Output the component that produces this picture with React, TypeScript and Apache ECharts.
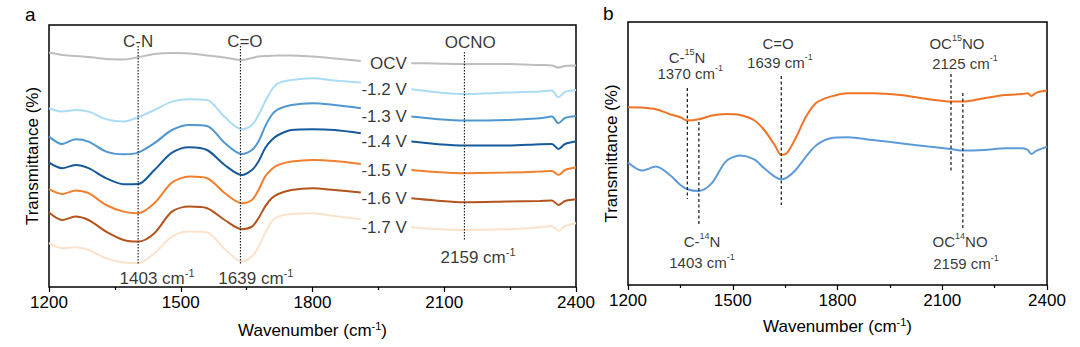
import React, { useEffect, useRef } from 'react';
import * as echarts from 'echarts';

const FONT = "'Liberation Sans', Arial, Helvetica, sans-serif";

// ---------- Panel a ----------
const waveA1 = [1200, 1230, 1260, 1290, 1330, 1370, 1403, 1440, 1480, 1520, 1560, 1600, 1639, 1662, 1677, 1692, 1707, 1722, 1752, 1800, 1850, 1910];
const waveA2 = [2025, 2080, 2145, 2242, 2318, 2345, 2360, 2375, 2400];
const voltLabels = ['OCV', '-1.2 V', '-1.3 V', '-1.4 V', '-1.5 V', '-1.6 V', '-1.7 V'];
const voltColors = ['#bdbdbd', '#aadcf6', '#4e97d1', '#175a9c', '#f2802f', '#b3541d', '#fde2cb'];

const ocvL = [117.2, 116, 115.5, 115, 114, 113.8, 114.9, 116.5, 117, 116.8, 115.8, 114.8, 113.5, 114.5, 115.2, 115.5, 115.6, 115.8, 115.8, 115.2, 114.3, 113];
const ocvR = [111.9, 111.8, 111.5, 111.5, 111, 110.8, 109.7, 110.5, 110.7];
const v12L = [89.4, 87.7, 88.5, 87.7, 83.9, 82.7, 84.9, 88.5, 92.7, 93.9, 93.5, 85, 78.9, 81, 86, 92.7, 98.5, 101.9, 103.5, 104.4, 103.2, 102.2];
const v12R = [98.9, 97.5, 96.5, 97.2, 97.7, 98.2, 94.9, 97.5, 98.5];
const v13L = [75.2, 71.5, 73.9, 72.7, 67.7, 66.4, 67.2, 71.9, 78.5, 81, 80.5, 72, 66.5, 68.5, 72.7, 80.2, 86, 88.9, 91, 91.9, 91, 89.4];
const v13R = [85.2, 84, 83.2, 83.5, 84.4, 85.2, 81.9, 84.5, 85.5];
const v14L = [62.2, 59.4, 61, 59.4, 54.4, 51.4, 51.5, 58.5, 67.2, 69.9, 68.5, 61, 56, 58.5, 62.7, 69.4, 73.5, 76, 78.5, 78.9, 78.5, 76.9];
const v14R = [72.7, 71.5, 70.7, 70.7, 71.4, 71.5, 69, 71.5, 72.7];
const v15L = [48.9, 46.5, 48.2, 46.9, 41, 37.7, 36.9, 41.9, 52.2, 55.2, 54.4, 47, 41.9, 43.5, 48.5, 55.2, 58.9, 61, 62.7, 63.5, 63, 61.5];
const v15R = [58.5, 57.5, 56.9, 57.2, 57.7, 58, 56, 58.5, 59.7];
const v16L = [37.2, 33.5, 35.2, 33.5, 27.7, 23.5, 22.7, 26.9, 37.7, 40.2, 39.4, 33.5, 28.9, 30.2, 34.4, 40.2, 44.4, 46.5, 48.5, 49.4, 48.5, 47.2];
const v16R = [44.4, 43.3, 42.4, 42.7, 43, 43.2, 41, 43, 43.9];
const v17L = [21.9, 19.4, 19.9, 18.5, 14.4, 12.2, 11.9, 16.9, 25.2, 27.7, 27.2, 19, 12.7, 15.2, 20.2, 26.9, 32.7, 35.2, 36.5, 36.9, 35.5, 33.9];
const v17R = [29.9, 29, 28.5, 28.9, 29.9, 30.5, 28, 30.5, 31.9];
const leftSeg = [ocvL, v12L, v13L, v14L, v15L, v16L, v17L];
const rightSeg = [ocvR, v12R, v13R, v14R, v15R, v16R, v17R];

// annotation lines panel a: [wavenumber, top, bottom]
const markA = [[1403, 120.5, 11], [1636, 120.5, 11], [2146, 117.5, 23]];
const textA = [
  { x: 1403, y: 123, t: '{n|C-N}' },
  { x: 1646, y: 123, t: '{n|C=O}' },
  { x: 2159, y: 122.5, t: '{n|OCNO}' },
  { x: 1446, y: 4.5, t: '{n|1403 cm}{s|-1}' },
  { x: 1671, y: 4.5, t: '{n|1639 cm}{s|-1}' },
  { x: 2177, y: 15, t: '{n|2159 cm}{s|-1}' },
];

// ---------- Panel b ----------
const waveB = [1200, 1240, 1280, 1320, 1350, 1370, 1403, 1440, 1480, 1520, 1560, 1590, 1620, 1639, 1655, 1680, 1710, 1740, 1780, 1830, 1900, 1980, 2060, 2125, 2159, 2220, 2280, 2330, 2345, 2355, 2370, 2400];
const n15B = [88.9, 88.7, 87.9, 85.4, 83.9, 82.2, 82.9, 84.7, 85.5, 85, 82.5, 77.5, 70, 65, 65.9, 73.4, 84.2, 91.2, 94.2, 95.9, 95.9, 95, 92.9, 91.7, 91.7, 93.4, 95, 95.5, 95.9, 94.5, 96.2, 97.2];
const n14B = [61.2, 57.2, 59.2, 55, 50, 47.9, 47, 50.9, 61.7, 64.7, 62.9, 58.4, 54.2, 52.9, 53.7, 57.5, 64.2, 70, 73.4, 73.9, 72.5, 70.9, 69.2, 68, 67.2, 67.5, 68.4, 68.4, 67.5, 65.5, 67.2, 69.2];
const markB = [[1370, 98.5, 43], [1403, 81.5, 30.5], [1639, 104.5, 40], [2125, 105.5, 56], [2159, 96, 28.5]];
const textB = [
  { x: 1369, y: 114, t: '{n|C-}{s|15}{n|N}' },
  { x: 1378, y: 106, t: '{n|1370 cm}{s|-1}' },
  { x: 1630, y: 121, t: '{n|C=O}' },
  { x: 1635, y: 111.5, t: '{n|1639 cm}{s|-1}' },
  { x: 2142, y: 121, t: '{n|OC}{s|15}{n|NO}' },
  { x: 2165, y: 111, t: '{n|2125 cm}{s|-1}' },
  { x: 1412, y: 22, t: '{n|C-}{s|14}{n|N}' },
  { x: 1412, y: 11.5, t: '{n|1403 cm}{s|-1}' },
  { x: 2151, y: 22, t: '{n|OC}{s|14}{n|NO}' },
  { x: 2168, y: 11, t: '{n|2159 cm}{s|-1}' },
];

const rich = (size: number) => ({
  n: { fontSize: size, fontFamily: FONT, color: '#000', lineHeight: size + 4 },
  s: { fontSize: Math.round(size * 0.62), fontFamily: FONT, color: '#000', lineHeight: Math.round(size * 0.62) + 1, verticalAlign: 'top' },
});

const zip = (xs: number[], ys: number[]) => xs.map((x, i) => [x, ys[i]]);

function xAxisCfg(gridIndex: number, gap: number) {
  return {
    type: 'value', gridIndex, min: 1200, max: 2400, interval: 300,
    axisLine: { show: false },
    axisTick: { show: true, length: 5, lineStyle: { color: '#000', width: 1.2 } },
    minorTick: { show: true, splitNumber: 2, length: 3, lineStyle: { color: '#000', width: 1.2 } },
    splitLine: { show: false },
    axisLabel: { color: '#000', fontSize: 17, fontFamily: FONT, margin: 7, formatter: (v: number) => String(v) },
    name: '{n|Wavenumber (cm}{s|-1}{n|)}', nameLocation: 'middle', nameGap: gap,
    nameTextStyle: { rich: rich(17) },
  };
}
function yAxisCfg(gridIndex: number, max: number) {
  return {
    type: 'value', gridIndex, min: 0, max,
    axisLine: { show: false }, axisTick: { show: false }, axisLabel: { show: false }, splitLine: { show: false },
    name: 'Transmittance (%)', nameLocation: 'middle', nameGap: 8,
    nameTextStyle: { color: '#000', fontSize: 17, fontFamily: FONT },
  };
}

const lineBase = { type: 'line', showSymbol: false, smooth: 0.3, silent: true };

export default function App() {
  const ref = useRef<HTMLDivElement>(null);
  useEffect(() => {
    if (!ref.current) return;
    const chart = echarts.init(ref.current, undefined, { renderer: 'svg' });
    const series: any[] = [];
    leftSeg.forEach((ys, i) => {
      series.push({ ...lineBase, xAxisIndex: 0, yAxisIndex: 0, data: zip(waveA1, ys), lineStyle: { color: voltColors[i], width: 2 } });
      series.push({ ...lineBase, xAxisIndex: 0, yAxisIndex: 0, data: zip(waveA2, rightSeg[i]), lineStyle: { color: voltColors[i], width: 2 } });
    });
    series.push({
      type: 'scatter', xAxisIndex: 0, yAxisIndex: 0, symbolSize: 1, itemStyle: { color: 'rgba(0,0,0,0)' }, silent: true,
      data: voltLabels.map((l, i) => ({ value: [waveA2[0], rightSeg[i][0]], label: { formatter: l } })),
      label: { show: true, position: 'left', distance: 4, color: '#000', fontSize: 17, fontFamily: FONT },
    });
    markA.forEach((m) => {
      series.push({ type: 'line', xAxisIndex: 0, yAxisIndex: 0, data: [[m[0], m[1]], [m[0], m[2]]], showSymbol: false, silent: true, lineStyle: { color: '#222', width: 1.2, type: [1.5, 1.5] } });
    });
    series.push({
      type: 'scatter', xAxisIndex: 0, yAxisIndex: 0, symbolSize: 1, itemStyle: { color: 'rgba(0,0,0,0)' }, silent: true,
      data: textA.map((t) => ({ value: [t.x, t.y], label: { formatter: t.t } })),
      label: { show: true, position: 'inside', color: '#000', fontSize: 17, fontFamily: FONT, rich: rich(17) },
    });
    // panel b
    series.push({ ...lineBase, xAxisIndex: 1, yAxisIndex: 1, data: zip(waveB, n15B), lineStyle: { color: '#f07324', width: 2 } });
    series.push({ ...lineBase, xAxisIndex: 1, yAxisIndex: 1, data: zip(waveB, n14B), lineStyle: { color: '#5d9ad9', width: 2 } });
    markB.forEach((m) => {
      series.push({ type: 'line', xAxisIndex: 1, yAxisIndex: 1, data: [[m[0], m[1]], [m[0], m[2]]], showSymbol: false, silent: true, lineStyle: { color: '#222', width: 1.3, type: [3, 2.5] } });
    });
    series.push({
      type: 'scatter', xAxisIndex: 1, yAxisIndex: 1, symbolSize: 1, itemStyle: { color: 'rgba(0,0,0,0)' }, silent: true,
      data: textB.map((t) => ({ value: [t.x, t.y], label: { formatter: t.t } })),
      label: { show: true, position: 'inside', color: '#000', fontSize: 15, fontFamily: FONT, rich: rich(15) },
    });

    chart.setOption({
      animation: false,
      backgroundColor: '#fff',
      textStyle: { fontFamily: FONT },
      grid: [
        { left: 49, top: 25, width: 527, height: 262, show: true, borderColor: '#000', borderWidth: 1.5, backgroundColor: 'transparent' },
        { left: 628, top: 22, width: 419, height: 263, show: true, borderColor: '#000', borderWidth: 1.5, backgroundColor: 'transparent' },
      ],
      xAxis: [xAxisCfg(0, 33), xAxisCfg(1, 31)],
      yAxis: [yAxisCfg(0, 131), yAxisCfg(1, 131.5)],
      graphic: [
        { type: 'text', left: 25, top: 5, style: { text: 'a', fontSize: 19, fontFamily: FONT, fill: '#000' } },
        { type: 'text', left: 603, top: 4, style: { text: 'b', fontSize: 19, fontFamily: FONT, fill: '#000' } },
      ],
      series,
    });
    return () => chart.dispose();
  }, []);
  return <div ref={ref} style={{ position: 'fixed', left: 0, top: 0, width: 1080, height: 347 }} />;
}
